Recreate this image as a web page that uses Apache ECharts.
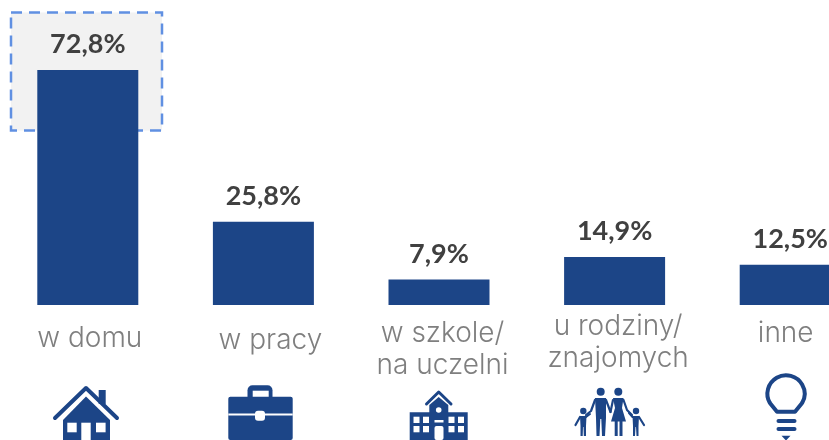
<!DOCTYPE html>
<html>
<head>
<meta charset="utf-8">
<style>html,body{margin:0;padding:0;background:#fff}#main{width:829px;height:440px}</style>
<script src="https://cdn.jsdelivr.net/npm/echarts@6/dist/echarts.min.js"></script>
</head>
<body>
<div id="main"></div>
<script>
var categories = ['w domu', 'w pracy', 'w szkole/\nna uczelni', 'u rodziny/\nznajomych', 'inne'];
var values = [72.8, 25.8, 7.9, 14.9, 12.5];

var BLUE = '#1c4587';
// podpisy osi nie leza rowno pod slupkami: [gora, lewo]
var labelPad = [[12, 4], [14, 14], [7, 7], [0, 7], [7, -9]];

var myChart = echarts.init(document.getElementById('main'), null, {renderer: 'canvas'});

function rect(x, y, w, h, fill, r) {
    return {type: 'rect', shape: {x: x, y: y, width: w, height: h, r: r || 0}, style: {fill: fill || BLUE}};
}
function circle(cx, cy, r, fill) {
    return {type: 'circle', shape: {cx: cx, cy: cy, r: r}, style: {fill: fill || BLUE}};
}
function poly(points, fill) {
    return {type: 'polygon', shape: {points: points}, style: {fill: fill || BLUE}};
}
function stroke(points, width) {
    return {
        type: 'polyline', shape: {points: points},
        style: {stroke: BLUE, fill: null, lineWidth: width, lineCap: 'round', lineJoin: 'round'}
    };
}

var house = [
    rect(98.7, 390, 7, 14),
    stroke([[55, 418], [86, 388], [117, 418]], 4),
    poly([[86, 396.5], [110, 420], [110, 440], [63, 440], [63, 420]]),
    rect(67.3, 422.7, 9.4, 9.6, '#fff'),
    rect(96, 422.7, 9.6, 9.6, '#fff'),
    rect(81.3, 422.7, 9.4, 18, '#fff')
];
var briefcase = [
    rect(247.5, 385.3, 25, 16, BLUE, 5),
    rect(252.7, 390.7, 16, 7, '#fff'),
    rect(228.3, 396.7, 64.4, 43.3, BLUE, 2),
    rect(228.3, 413.4, 64.4, 2, '#fff'),
    rect(255, 410.7, 10, 10, '#fff', 3)
];
var school = [
    stroke([[426.5, 404], [438.7, 392], [451, 404]], 3),
    rect(409.7, 412.3, 58, 27.7),
    poly([[438.7, 397], [448.3, 405], [448.3, 413], [429.3, 413], [429.3, 405]]),
    circle(438.7, 410, 2.8, '#fff'),
    rect(434.5, 420, 9, 2.5, '#fff'),
    rect(434.5, 426, 9, 14, '#fff', 2),
    rect(413.5, 416.7, 6, 6.3, '#fff'), rect(423, 416.7, 6, 6.3, '#fff'),
    rect(413.5, 426, 6, 6.3, '#fff'), rect(423, 426, 6, 6.3, '#fff'),
    rect(448.5, 416.7, 6, 6.3, '#fff'), rect(458, 416.7, 6, 6.3, '#fff'),
    rect(448.5, 426, 6, 6.3, '#fff'), rect(458, 426, 6, 6.3, '#fff')
];
var family = [
    circle(600.7, 391.7, 4), circle(618.3, 391.7, 4),
    circle(583.3, 411, 3.2), circle(636, 411, 3.2),
    // ojciec
    poly([[595, 398], [606, 398], [606, 418], [605, 436], [602, 436], [601.3, 419], [600.3, 419], [599.5, 436], [596.5, 436], [596, 418]]),
    stroke([[595, 400], [591, 411], [586, 415]], 2.2),
    stroke([[606, 400], [610.5, 412]], 2.2),
    // matka
    poly([[613, 398], [623.5, 398], [622, 408], [626, 421.5], [611, 421.5], [615, 408]]),
    rect(614.7, 421, 3, 15), rect(619.5, 421, 3, 15),
    stroke([[613, 400], [610.5, 412]], 2.2),
    stroke([[623.5, 400], [627, 410], [632, 415]], 2.2),
    // dzieci
    poly([[580, 416], [586.5, 416], [586, 426], [586, 436], [583.8, 436], [583.5, 427], [583, 427], [582.7, 436], [580.5, 436], [580.5, 426]]),
    stroke([[580, 417], [575.5, 425]], 2.2),
    poly([[632.5, 416], [639, 416], [638.5, 426], [638.5, 436], [636.5, 436], [636, 427], [635.5, 427], [635, 436], [633, 436], [633, 426]]),
    stroke([[639, 417], [644, 425]], 2.2),
    stroke([[586, 417], [590, 414]], 2),
    stroke([[632.5, 417], [629, 413]], 2)
];
var bulb = [
    {
        type: 'arc',
        shape: {cx: 786, cy: 393.8, r: 18.6, startAngle: Math.PI * 5 / 6, endAngle: Math.PI / 6, clockwise: true},
        style: {stroke: BLUE, fill: null, lineWidth: 4}
    },
    stroke([[769.9, 403.1], [777, 411.7], [795, 411.7], [802.1, 403.1]], 4),
    stroke([[778.5, 421], [794.5, 421]], 4),
    stroke([[778.5, 429], [794.5, 429]], 4),
    poly([[781.5, 435.7], [790.5, 435.7], [786, 440.5]])
];

var graphicEls = [{
    type: 'rect',
    z: 0,
    shape: {x: 11, y: 12.5, width: 151, height: 118},
    style: {fill: '#f2f2f2', stroke: '#6090e2', lineWidth: 2.5, lineDash: [11, 7]}
}].concat(house, briefcase, school, family, bulb);

var option = {
    animation: false,
    grid: {left: 0, top: 0, width: 878, height: 305, outerBoundsMode: 'none'},
    graphic: {elements: graphicEls},
    xAxis: {
        type: 'category',
        data: categories.map(function (c, i) {
            return {value: c, textStyle: {padding: [labelPad[i][0], 0, 0, labelPad[i][1]]}};
        }),
        axisLine: {show: false},
        axisTick: {show: false},
        axisLabel: {
            interval: 0,
            margin: 6,
            color: '#7f7f7f',
            fontFamily: 'Inter',
            fontWeight: 300,
            fontSize: 28,
            lineHeight: 32,
            hideOverlap: false
        }
    },
    yAxis: {
        type: 'value',
        min: 0,
        max: 94.5,
        show: false
    },
    series: [{
        type: 'bar',
        data: values,
        barWidth: 101,
        itemStyle: {color: BLUE},
        label: {
            show: true,
            position: 'top',
            distance: 12,
            color: '#404040',
            fontFamily: 'Lato',
            fontWeight: 'bold',
            fontSize: 27,
            formatter: function (p) {
                return p.value.toFixed(1).replace('.', ',') + '%';
            }
        }
    }]
};
myChart.setOption(option);
</script>
</body>
</html>
